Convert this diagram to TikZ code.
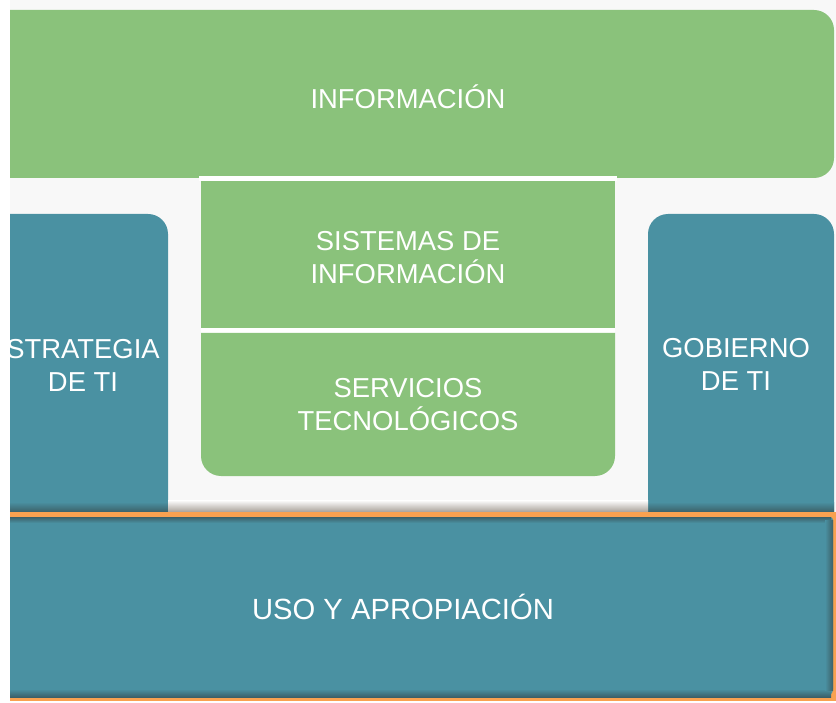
\documentclass[tikz,border=0pt]{standalone}
\usepackage{fontspec}
\setmainfont{Liberation Sans}
\definecolor{gr}{RGB}{138,194,123}
\definecolor{tl}{RGB}{74,145,162}
\definecolor{dk}{RGB}{60,96,104}
\definecolor{orng}{RGB}{249,161,80}
\definecolor{bg}{RGB}{248,248,248}
\definecolor{shd}{RGB}{168,160,152}
\tikzset{
  lbl/.style={text=white, font=\fontsize{27.4}{33}\selectfont, align=center, inner sep=0pt},
}
\begin{document}
\begin{tikzpicture}[x=1pt,y=-1pt]
\useasboundingbox (0,0) rectangle (836,703);
\fill[white] (0,0) rectangle (836,703);
\fill[bg] (10,0) rectangle (836,512);
% top green
\fill[gr] (10,10) [rounded corners=20]-- (834,10) -- (834,178) [sharp corners]-- (10,178) -- cycle;
% columns
\fill[tl] (10,214) [rounded corners=20]-- (168,214) [sharp corners]-- (168,512) -- (10,512) -- cycle;
\fill[tl] (648,512) [rounded corners=20]-- (648,214) -- (834,214) [sharp corners]-- (834,512) -- cycle;
\shade[top color=tl, bottom color=dk] (10,502) rectangle (168,512);
\shade[top color=tl, bottom color=dk] (648,502) rectangle (834,512);
\shade[top color=white, bottom color=shd] (168,500) rectangle (648,512);
% centre green
\fill[white] (199,176) rectangle (617,181);
\fill[gr] (201,181) rectangle (615,328);
\fill[white] (201,328) rectangle (615,333);
\fill[gr] (201,333) -- (615,333) [rounded corners=20]-- (615,476) -- (201,476) [sharp corners]-- (201,333) -- cycle;
% bottom band
\fill[orng] (10,512) rectangle (836,701);
\fill[tl] (10,517) [rounded corners=3]-- (833,517) [rounded corners=8]-- (833,697) [sharp corners]-- (10,697) -- cycle;
\shade[top color=dk, bottom color=tl] (10,517) rectangle (831,523);
\shade[top color=tl, bottom color=dk] (10,689) rectangle (831,697);
\shade[left color=tl, right color=dk] (825,520) rectangle (833,690);
% labels
\node[lbl] (info) at (408,97) {INFORMACIÓN};
\node[lbl] (sis) at (408,258) {SISTEMAS DE\\INFORMACIÓN};
\node[lbl] (serv) at (408,405) {SERVICIOS\\TECNOLÓGICOS};
\node[lbl] (estr) at (83,365) {STRATEGIA\\DE TI};
\node[lbl] (gob) at (736,364) {GOBIERNO\\DE TI};
\node[lbl, font=\fontsize{29.2}{35}\selectfont] (uso) at (403,607) {USO Y APROPIACIÓN};
\end{tikzpicture}
\end{document}
